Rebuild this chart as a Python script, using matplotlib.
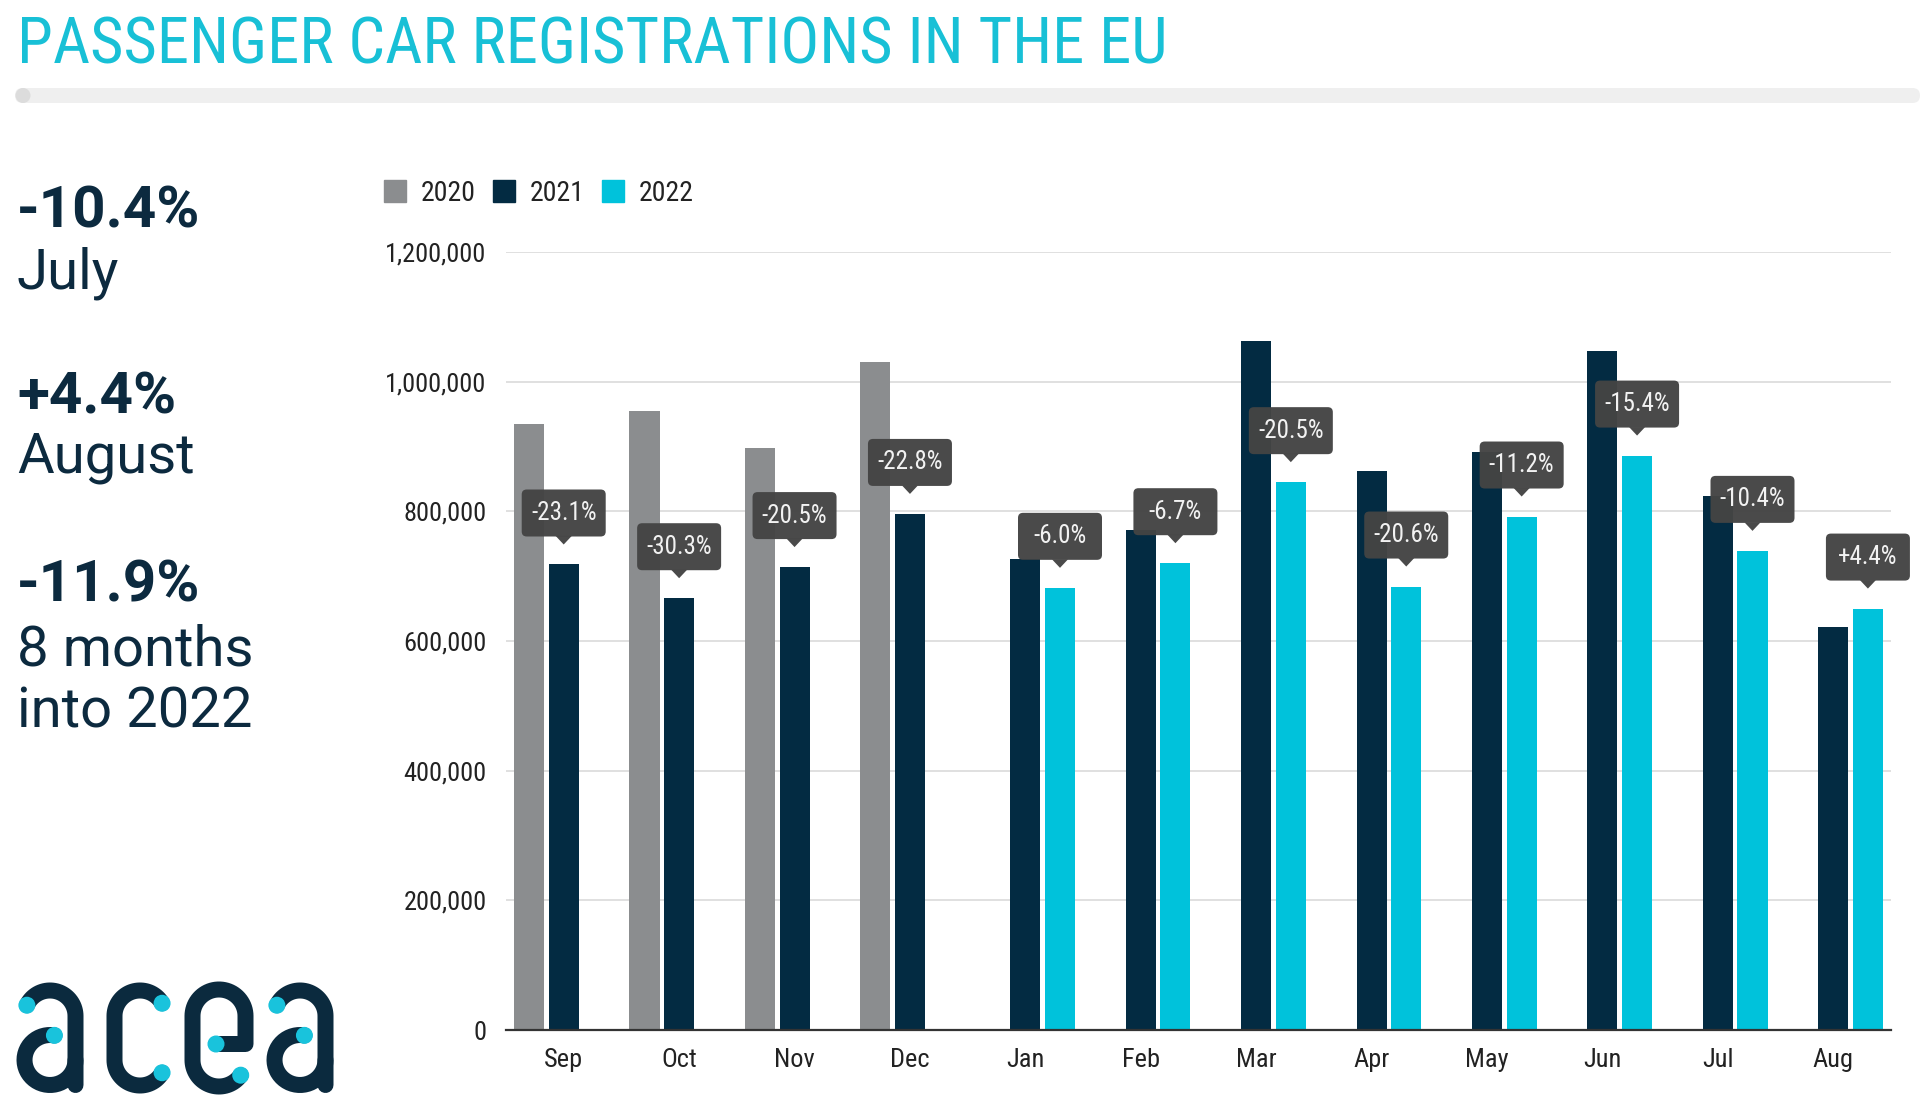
import numpy as np
import matplotlib
matplotlib.use('Agg')
import matplotlib.pyplot as plt
from matplotlib import font_manager as fm
from matplotlib.patches import FancyBboxPatch, Polygon, Circle
from matplotlib.transforms import IdentityTransform
from matplotlib.lines import Line2D
from matplotlib.ticker import FuncFormatter

nan = np.nan
months = ['Sep', 'Oct', 'Nov', 'Dec', 'Jan', 'Feb', 'Mar', 'Apr', 'May', 'Jun', 'Jul', 'Aug']
reg_2020 = [934000, 955000, 898000, 1030000, nan, nan, nan, nan, nan, nan, nan, nan]
reg_2021 = [718000, 666000, 714000, 796000, 726000, 771000, 1062000, 862000, 892000, 1047000, 824000, 622000]
reg_2022 = [nan, nan, nan, nan, 682000, 720000, 845000, 684000, 792000, 886000, 739000, 650000]
change_labels = ['-23.1%', '-30.3%', '-20.5%', '-22.8%', '-6.0%', '-6.7%', '-20.5%', '-20.6%',
                 '-11.2%', '-15.4%', '-10.4%', '+4.4%']
y_ticks = [0, 200000, 400000, 600000, 800000, 1000000, 1200000]
series_names = ['2020', '2021', '2022']

C2020 = '#8b8d8f'
C2021 = '#032b42'
C2022 = '#00c2db'
NAVY = '#0c2a3f'
CYAN = '#18c0d6'
ROBOTO = ['Roboto', 'DejaVu Sans']

# pick a condensed face if one is installed
def pick_condensed():
    ents = fm.fontManager.ttflist
    names = {e.name for e in ents}
    for nm in ['Roboto Condensed', 'Liberation Sans Narrow', 'Open Sans Condensed',
               'Noto Sans Condensed', 'DejaVu Sans Condensed', 'Arial Narrow']:
        if nm in names:
            return nm, 'normal', True
    for pref in ['Roboto', 'Noto Sans', 'Open Sans', 'DejaVu Sans', 'Lato', 'Inter']:
        for e in ents:
            if e.name == pref and str(e.stretch) in ('condensed', 'semi-condensed'):
                return pref, str(e.stretch), True
    for e in ents:
        if ('Condensed' in e.name or 'Narrow' in e.name) and 'Mono' not in e.name:
            return e.name, 'normal', True
    return 'Roboto', 'normal', False

COND, STRETCH, HAVE_COND = pick_condensed()
CF = [COND, 'DejaVu Sans']
k = 1.0 if HAVE_COND else 0.86

def cprops(size, weight='normal'):
    return dict(family=CF, stretch=STRETCH, size=size * k, weight=weight)

W, H = 1920, 1111
fig = plt.figure(figsize=(W / 100, H / 100), dpi=100)
fig.patch.set_facecolor('white')

bg = fig.add_axes([0, 0, 1, 1], zorder=-1)
bg.set_xlim(0, W)
bg.set_ylim(H, 0)
bg.axis('off')

# title
bg.text(17, 64, 'PASSENGER CAR REGISTRATIONS IN THE EU', color=CYAN,
        va='baseline', ha='left', fontproperties=fm.FontProperties(**cprops(46.5)))
bg.add_patch(FancyBboxPatch((15, 88), W - 15, 15, boxstyle='round,pad=0,rounding_size=7.5',
                            fc='#efefef', ec='none'))
bg.add_patch(Circle((23, 95.5), 7.5, fc='#dcdcdc', ec='none'))

# left key numbers
left_items = [('-10.4%', 'bold', 228), ('July', 'normal', 289),
              ('+4.4%', 'bold', 414), ('August', 'normal', 473),
              ('-11.9%', 'bold', 601), ('8 months', 'normal', 665), ('into 2022', 'normal', 727)]
for s, wgt, yb in left_items:
    bg.text(17, yb, s, fontsize=42 if wgt == 'bold' else 40.5, fontweight=wgt, color=NAVY,
            family=ROBOTO, va='baseline', ha='left')

# acea logo drawn with strokes
def arc(cx, cy, rx, ry, t0, t1, n=40):
    t = np.radians(np.linspace(t0, t1, n))
    return list(cx + rx * np.cos(t)), list(cy - ry * np.sin(t))

lw_logo = 16 * 72 / 100
dots = []
def stroke(xs, ys):
    bg.plot(xs, ys, color='#0b2a3e', lw=lw_logo, solid_capstyle='round',
            solid_joinstyle='round')

def letter_a(dx):
    cx, r = 50 + dx, 25.5
    xs, ys = arc(cx, 1016, r, r, 155, 0)
    xs += [cx + r]; ys += [1085]
    stroke(xs, ys)
    dots.append((xs[0], ys[0]))
    xs, ys = arc(cx, 1060, r, 25, 80, 360)
    stroke(xs, ys)
    dots.append((xs[0], ys[0]))

def letter_c(cx, r=25.5):
    x1, y1 = arc(cx, 1016, r, r, 30, 180)
    x2, y2 = arc(cx, 1060, r, r, 180, 330)
    stroke(x1 + x2, y1 + y2)
    dots.append((x1[0], y1[0])); dots.append((x2[-1], y2[-1]))

def letter_e(cx, r=26.5):
    x0 = [cx - 3, cx + r, cx + r]
    y0 = [1044, 1044, 1016]
    x1, y1 = arc(cx, 1016, r, r, 0, 180)
    x2, y2 = arc(cx, 1060, r, r, 180, 325)
    stroke(x0 + x1 + x2, y0 + y1 + y2)
    dots.append((x0[0], y0[0])); dots.append((x2[-1], y2[-1]))

letter_a(0)
letter_c(140)
letter_e(219)
letter_a(250)
for (dx_, dy_) in dots:
    bg.add_patch(Circle((dx_, dy_), 8.5, fc='#19c3dc', ec='none', zorder=5))

# main chart
L, R, T, B = 506, 1891, 252, 1030
ax = fig.add_axes([L / W, 1 - B / H, (R - L) / W, (B - T) / H])
x = np.arange(len(months))
bw = 0.26
off = 0.3
ax.bar(x - off, reg_2020, bw, color=C2020, label=series_names[0], zorder=3)
ax.bar(x, reg_2021, bw, color=C2021, label=series_names[1], zorder=3)
ax.bar(x + off, reg_2022, bw, color=C2022, label=series_names[2], zorder=3)
ax.set_xlim(-0.5, len(months) - 0.5)
ax.set_ylim(0, 1200000)
ax.set_yticks(y_ticks)
ax.yaxis.set_major_formatter(FuncFormatter(lambda v, p: f'{int(v):,}'))
ax.set_xticks(x)
ax.set_xticklabels(months)
ax.grid(axis='y', color='#dddddd', lw=1.3, zorder=0)
ax.set_axisbelow(True)
for sp in ['top', 'right', 'left']:
    ax.spines[sp].set_visible(False)
ax.spines['bottom'].set_color('#333333')
ax.spines['bottom'].set_linewidth(1.6)
ax.spines['bottom'].set_zorder(4)
ax.tick_params(axis='both', length=0, labelcolor='#222222')
ax.tick_params(axis='y', pad=14)
ax.tick_params(axis='x', pad=13)
tick_fp = fm.FontProperties(**cprops(19))
for lab in ax.get_xticklabels() + ax.get_yticklabels():
    lab.set_fontproperties(tick_fp)
ax.set_facecolor('none')

# legend
handles = [Line2D([], [], marker='s', ls='', ms=16, color=c) for c in (C2020, C2021, C2022)]
leg = ax.legend(handles, series_names, loc='upper left', bbox_to_anchor=(384 / W, 1 - 180 / H),
                bbox_transform=fig.transFigure, ncol=3, frameon=False, borderpad=0,
                borderaxespad=0, handlelength=0.8, handletextpad=0.54, columnspacing=0.6,
                prop=fm.FontProperties(**cprops(20)))
for t in leg.get_texts():
    t.set_color('#222222')

# change annotations (tooltip boxes)
fig.canvas.draw()
ann_fp = fm.FontProperties(**cprops(18))
for i, lab in enumerate(change_labels):
    if not np.isnan(reg_2022[i]):
        xv, yv = x[i] + off, reg_2022[i]
    else:
        xv, yv = x[i], reg_2021[i]
    px, py = ax.transData.transform((xv, yv))
    bw_px, bh_px = 84, 47
    b0 = py + 28
    fig.add_artist(FancyBboxPatch((px - bw_px / 2, b0), bw_px, bh_px,
                                  boxstyle='round,pad=0,rounding_size=5',
                                  fc='#444444', ec='none', alpha=0.97,
                                  transform=IdentityTransform(), zorder=6))
    fig.add_artist(Polygon([(px - 8, b0 + 0.5), (px + 8, b0 + 0.5), (px, b0 - 8)], closed=True,
                           fc='#444444', ec='none', alpha=0.97,
                           transform=IdentityTransform(), zorder=6))
    fig.text(px, b0 + bh_px / 2, lab, transform=IdentityTransform(), ha='center', va='center',
             color='#f2f2f2', fontproperties=ann_fp, zorder=7)

fig.savefig('out.png', dpi=100, facecolor='white')
